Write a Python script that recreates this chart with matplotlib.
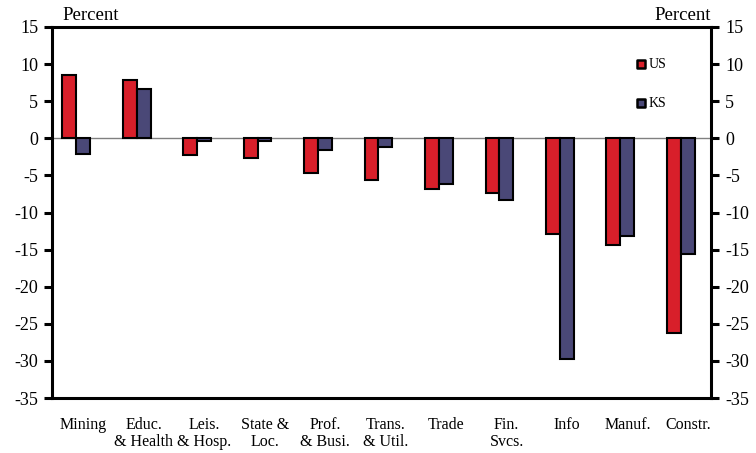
import matplotlib.pyplot as plt
import numpy as np

plt.rcParams['font.family'] = ['Liberation Serif', 'DejaVu Serif']

categories = ['Mining', 'Educ.\n& Health', 'Leis.\n& Hosp.', 'State &\nLoc.', 'Prof.\n& Busi.',
              'Trans.\n& Util.', 'Trade', 'Fin.\nSvcs.', 'Info', 'Manuf.', 'Constr.']
us = [8.5, 7.9, -2.3, -2.6, -4.7, -5.6, -6.8, -7.4, -12.9, -14.4, -26.2]
ks = [-2.1, 6.7, -0.3, -0.3, -1.6, -1.2, -6.1, -8.3, -29.8, -13.2, -15.6]
yticks = list(range(-35, 20, 5))

red = '#d81f2a'
blue = '#4a4877'

fig = plt.figure(figsize=(7.56, 4.53), dpi=100)
ax = fig.add_axes([0.0688, 0.1214, 0.8717, 0.819])

x = np.arange(len(categories))
w = 0.23
ax.bar(x - w / 2, us, w, color=red, edgecolor='black', linewidth=1.5, zorder=3)
ax.bar(x + w / 2, ks, w, color=blue, edgecolor='black', linewidth=1.5, zorder=3)
ax.axhline(0, color='#808080', linewidth=1, zorder=2)

ax.set_xlim(-0.4, 10.5)
ax.set_ylim(-35, 15)
ax.set_yticks(yticks)
ax.set_yticklabels([str(v) for v in yticks], fontsize=13)
ax.tick_params(axis='y', direction='out', length=6, width=2.2, right=True, labelright=True, pad=4)
ax.set_xticks(x + 0.12)
ax.set_xticklabels(categories, fontsize=11.5, linespacing=1.05)
ax.tick_params(axis='x', length=0, pad=14)
for s in ax.spines.values():
    s.set_linewidth(2.2)

fig.text(0.083, 0.947, 'Percent', fontsize=13.5, ha='left', va='bottom')
fig.text(0.94, 0.947, 'Percent', fontsize=13.5, ha='right', va='bottom')

# legend markers
for yy, lab, col in [(0.900, 'US', red), (0.795, 'KS', blue)]:
    ax.scatter([0.894], [yy], marker='s', s=40, color=col, edgecolor='black', linewidth=1.8,
               transform=ax.transAxes, zorder=5, clip_on=False)
    ax.text(0.905, yy, lab, fontsize=10, transform=ax.transAxes, va='center', ha='left')

fig.savefig('out.png', dpi=100)
